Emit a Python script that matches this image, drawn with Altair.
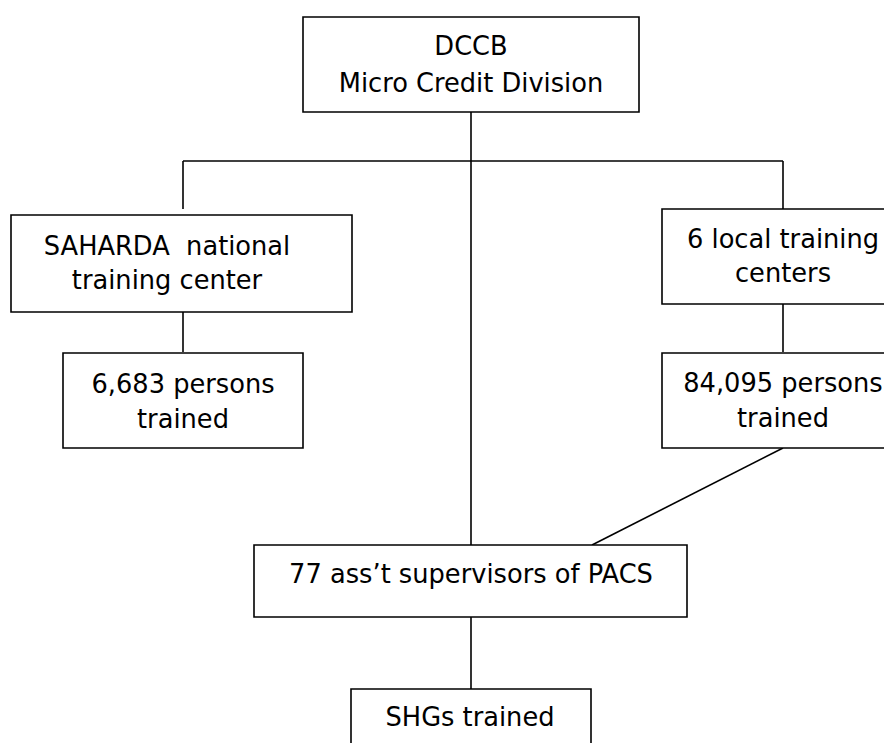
import altair as alt
import pandas as pd

# --- node boxes of the flowchart (layout units = pixels of the reference) ---
box_names = ["DCCB", "SAHARDA", "local", "p6683", "p84095", "PACS", "SHG"]
box_x1 = [303, 11, 662, 63, 662, 254, 351]
box_x2 = [639, 352, 905, 303, 905, 687, 591]
box_y1 = [17, 215, 209, 353, 353, 545, 689]
box_y2 = [112, 312, 304, 448, 448, 617, 770]

# --- text lines inside boxes ---
text_lines = ["DCCB", "Micro Credit Division",
              "SAHARDA \u00a0national", "training center",
              "6 local training", "centers",
              "6,683 persons", "trained",
              "84,095 persons", "trained",
              "77 ass\u2019t supervisors of PACS",
              "SHGs trained"]
text_x = [471, 471, 167, 167, 783, 783, 183, 183, 783, 783, 471, 470]
text_y = [55, 92, 255, 289, 248, 282, 393, 428, 392, 427, 583, 726]

# --- connector lines ---
link_x1 = [471, 183, 183, 783, 183, 783, 783, 471]
link_y1 = [112, 161, 161, 161, 305, 304, 448, 617]
link_x2 = [471, 783, 183, 783, 183, 783, 592, 471]
link_y2 = [545, 161, 209, 209, 352, 352, 545, 689]

boxes = pd.DataFrame({"name": box_names, "x1": box_x1, "x2": box_x2,
                      "y1": box_y1, "y2": box_y2})
texts = pd.DataFrame({"t": text_lines, "x": text_x, "y": text_y})
links = pd.DataFrame({"x1": link_x1, "y1": link_y1, "x2": link_x2, "y2": link_y2})

W, H = 876, 735
xs = alt.Scale(domain=[8, 8 + W])
ys = alt.Scale(domain=[8 + H, 8])

rules = alt.Chart(links).mark_rule(color="black", strokeWidth=1.6).encode(
    x=alt.X("x1:Q", scale=xs, axis=None),
    y=alt.Y("y1:Q", scale=ys, axis=None),
    x2="x2:Q",
    y2="y2:Q",
)

rects = alt.Chart(boxes).mark_rect(
    fill="white", stroke="black", strokeWidth=1.6
).encode(
    x=alt.X("x1:Q", scale=xs, axis=None),
    x2="x2:Q",
    y=alt.Y("y1:Q", scale=ys, axis=None),
    y2="y2:Q",
)

labels = alt.Chart(texts).mark_text(
    font="DejaVu Sans", fontSize=25.7, color="black",
    align="center", baseline="alphabetic"
).encode(
    x=alt.X("x:Q", scale=xs, axis=None),
    y=alt.Y("y:Q", scale=ys, axis=None),
    text="t:N",
)

chart = alt.layer(rules, rects, labels).properties(
    width=W, height=H, padding=0,
    autosize=alt.AutoSizeParams(type="none"),
).configure_view(strokeOpacity=0, fillOpacity=0)

chart.save("out.html", embed_options={"renderer": "svg", "actions": False})
